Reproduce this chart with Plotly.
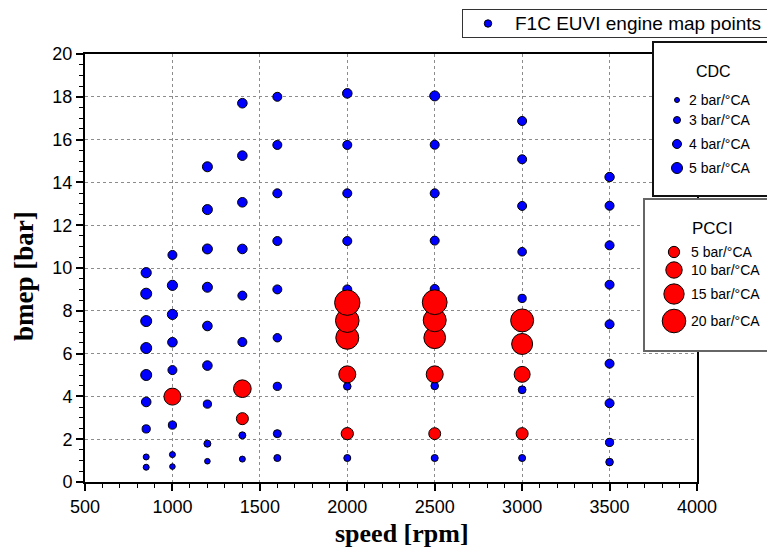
import numpy as np
import plotly.graph_objects as go

# ---------------- data ----------------
# CDC engine map points (speed [rpm], bmep [bar], pressure rise rate [bar/°CA])
cdc_speed = [850] * 9 + [1000] * 8 + [1200] * 9 + [1400] * 8 + [1600] * 9 + \
            [2000] * 7 + [2500] * 7 + [3000] * 7 + [3500] * 9
cdc_bmep = [
    9.78, 8.80, 7.52, 6.26, 5.00, 3.74, 2.48, 1.17, 0.69,
    10.61, 9.19, 7.83, 6.53, 5.23, 2.66, 1.28, 0.72,
    14.73, 12.73, 10.89, 9.10, 7.29, 5.44, 3.64, 1.79, 0.97,
    17.70, 15.25, 13.07, 10.89, 8.71, 6.54, 2.18, 1.07,
    18.00, 15.75, 13.49, 11.26, 9.00, 6.74, 4.47, 2.26, 1.12,
    18.16, 15.75, 13.49, 11.26, 9.00, 4.47, 1.12,
    18.04, 15.76, 13.49, 11.28, 9.02, 4.49, 1.12,
    16.87, 15.08, 12.90, 10.76, 8.58, 4.31, 1.12,
    14.25, 12.91, 11.06, 9.22, 7.37, 5.53, 3.68, 1.85, 0.93,
]
cdc_prr = [
    4.6, 5.0, 5.0, 5.0, 5.0, 4.3, 3.6, 2.5, 2.5,
    4.0, 4.6, 4.6, 4.3, 4.0, 3.6, 2.5, 2.3,
    4.5, 4.5, 4.5, 4.5, 4.3, 4.3, 3.6, 3.0, 2.3,
    4.3, 4.3, 4.3, 4.3, 4.0, 4.0, 3.0, 2.5,
    4.0, 4.0, 4.0, 4.0, 4.0, 3.7, 3.6, 3.5, 3.0,
    4.3, 4.0, 4.0, 4.0, 4.0, 3.3, 3.0,
    4.5, 4.0, 4.0, 4.0, 4.0, 3.3, 3.0,
    4.0, 4.0, 4.0, 3.8, 3.6, 3.4, 3.0,
    4.2, 4.0, 4.0, 4.0, 4.0, 4.0, 4.0, 3.6, 3.3,
]

# PCCI points
pcci_speed = [1000, 1400, 1400,
              2000, 2000, 2000, 2000, 2000,
              2500, 2500, 2500, 2500, 2500,
              3000, 3000, 3000, 3000]
pcci_bmep = [3.99, 2.96, 4.36,
             2.26, 5.03, 6.74, 7.54, 8.38,
             2.26, 5.03, 6.74, 7.56, 8.40,
             2.26, 5.03, 6.45, 7.55]
pcci_prr = [10.7, 5.6, 11.5,
            5.8, 10.7, 19.0, 20.0, 23.0,
            5.5, 10.7, 17.0, 19.0, 22.0,
            5.6, 9.5, 16.0, 19.0]

# legends
map_legend_label = "F1C EUVI engine map points"
cdc_title = "CDC"
cdc_legend_values = [2, 3, 4, 5]
pcci_title = "PCCI"
pcci_legend_values = [5, 10, 15, 20]
unit = "bar/°CA"

x_ticks = [500, 1000, 1500, 2000, 2500, 3000, 3500, 4000]
y_ticks = [0, 2, 4, 6, 8, 10, 12, 14, 16, 18, 20]


# ---------------- styling helpers ----------------
def cdc_diam(v):
    return 2.0 * np.asarray(v, dtype=float) + 2.0 - 1.0


def pcci_diam(v):
    return 5.5 * np.sqrt(np.asarray(v, dtype=float)) - 1.0


W, H = 767, 551
BLUE = "#0000FF"
RED = "#FF0000"
SANS = "Liberation Sans, Arial, sans-serif"
SERIF = "Liberation Serif, Times New Roman, serif"


def px_dom_x(a, b):
    return [a / W, min(b / W, 1.0)]


def px_dom_y(top, bottom):
    return [1 - bottom / H, 1 - top / H]


fig = go.Figure()

# main data
fig.add_trace(go.Scatter(
    x=cdc_speed, y=cdc_bmep, mode="markers", xaxis="x", yaxis="y",
    marker=dict(size=cdc_diam(cdc_prr), color=BLUE, opacity=1,
                line=dict(color="black", width=1)),
    showlegend=False, hoverinfo="x+y"))
fig.add_trace(go.Scatter(
    x=pcci_speed, y=pcci_bmep, mode="markers", xaxis="x", yaxis="y",
    marker=dict(size=pcci_diam(pcci_prr), color=RED, opacity=1,
                line=dict(color="black", width=1)),
    showlegend=False, hoverinfo="x+y"))

# ---------- legend boxes (as small subplots in pixel units) ----------
L1 = dict(x0=463, x1=767, y0=10, y1=37)
L2 = dict(x0=654, x1=767, y0=43, y1=195)
L3 = dict(x0=645, x1=767, y0=200, y1=350)

fig.add_trace(go.Scatter(
    x=[25], y=[13.5], mode="markers", xaxis="x2", yaxis="y2",
    marker=dict(size=cdc_diam(3.2), color=BLUE, opacity=1,
                line=dict(color="black", width=1)),
    showlegend=False, hoverinfo="skip"))

cdc_item_y = [57, 77, 101, 125]
fig.add_trace(go.Scatter(
    x=[23] * len(cdc_legend_values), y=cdc_item_y, mode="markers",
    xaxis="x3", yaxis="y3",
    marker=dict(size=cdc_diam(cdc_legend_values), color=BLUE, opacity=1,
                line=dict(color="black", width=1)),
    showlegend=False, hoverinfo="skip", cliponaxis=False))

pcci_item_y = [52, 70, 94, 121]
fig.add_trace(go.Scatter(
    x=[29] * len(pcci_legend_values), y=pcci_item_y, mode="markers",
    xaxis="x4", yaxis="y4",
    marker=dict(size=pcci_diam(pcci_legend_values), color=RED, opacity=1,
                line=dict(color="black", width=1)),
    showlegend=False, hoverinfo="skip", cliponaxis=False))

annotations = []
annotations.append(dict(xref="x2", yref="y2", x=50, y=13.5, text=map_legend_label,
                        xanchor="left", yanchor="middle", showarrow=False,
                        font=dict(family=SANS, size=19, color="black")))
annotations.append(dict(xref="x3", yref="y3", x=59, y=29, text=cdc_title,
                        xanchor="center", yanchor="middle", showarrow=False,
                        font=dict(family=SANS, size=16, color="black")))
for v, yy in zip(cdc_legend_values, cdc_item_y):
    annotations.append(dict(xref="x3", yref="y3", x=33, y=yy,
                            text=f"{v} {unit}", xanchor="left", yanchor="middle",
                            showarrow=False,
                            font=dict(family=SANS, size=14, color="black")))
annotations.append(dict(xref="x4", yref="y4", x=67, y=28, text=pcci_title,
                        xanchor="center", yanchor="middle", showarrow=False,
                        font=dict(family=SANS, size=17, color="black")))
for v, yy in zip(pcci_legend_values, pcci_item_y):
    annotations.append(dict(xref="x4", yref="y4", x=44, y=yy,
                            text=f"{v} {unit}", xanchor="left", yanchor="middle",
                            showarrow=False,
                            font=dict(family=SANS, size=14, color="black")))

# axis titles
annotations.append(dict(xref="paper", yref="paper", x=402 / W, y=1 - 533 / H,
                        text="<b>speed [rpm]</b>", xanchor="center", yanchor="middle",
                        showarrow=False, font=dict(family=SERIF, size=26, color="black")))
annotations.append(dict(xref="paper", yref="paper", x=24 / W, y=1 - 276 / H,
                        text="<b>bmep [bar]</b>", textangle=-90,
                        xanchor="center", yanchor="middle",
                        showarrow=False, font=dict(family=SERIF, size=27, color="black")))


def box_axes(box, yrev_h, line_color, line_width):
    xa = dict(domain=px_dom_x(box["x0"], box["x1"]), range=[0, box["x1"] - box["x0"]],
              showline=True, mirror=True, linecolor=line_color, linewidth=line_width,
              showgrid=False, zeroline=False, showticklabels=False, ticks="",
              fixedrange=True, automargin=False)
    ya = dict(domain=px_dom_y(box["y0"], box["y1"]), range=[yrev_h, 0],
              showline=True, mirror=False, linecolor=line_color, linewidth=line_width,
              showgrid=False, zeroline=False, showticklabels=False, ticks="",
              fixedrange=True, automargin=False)
    return xa, ya


xa2, ya2 = box_axes(L1, L1["y1"] - L1["y0"], "#333333", 1)
xa3, ya3 = box_axes(L2, L2["y1"] - L2["y0"], "#111111", 1.5)
xa4, ya4 = box_axes(L3, L3["y1"] - L3["y0"], "#666666", 1.5)
xa2.update(anchor="y2"); ya2.update(anchor="x2")
xa3.update(anchor="y3"); ya3.update(anchor="x3")
xa4.update(anchor="y4"); ya4.update(anchor="x4")

fig.update_layout(
    template="none",
    width=W, height=H,
    margin=dict(l=0, r=0, t=0, b=0, pad=0, autoexpand=False),
    paper_bgcolor="white", plot_bgcolor="white",
    showlegend=False,
    xaxis=dict(
        domain=px_dom_x(85, 697), range=[500, 4000], anchor="y",
        tickmode="array", tickvals=x_ticks, ticktext=[str(t) for t in x_ticks],
        ticks="outside", ticklen=7, tickwidth=1.5, tickcolor="black",
        showline=True, linecolor="black", linewidth=2, mirror=True,
        showgrid=True, gridcolor="#8c8c8c", gridwidth=1, griddash="3px,3px",
        zeroline=False, automargin=False,
        tickfont=dict(family=SANS, size=18, color="black"),
        minor=dict(tick0=500, dtick=100, ticks="outside", ticklen=4,
                   tickwidth=1, tickcolor="black", showgrid=False),
    ),
    yaxis=dict(
        domain=px_dom_y(54, 482), range=[0, 20], anchor="x",
        tickmode="array", tickvals=y_ticks, ticktext=[str(t) for t in y_ticks],
        ticks="outside", ticklen=7, tickwidth=1.5, tickcolor="black",
        showline=True, linecolor="black", linewidth=2, mirror=True,
        showgrid=True, gridcolor="#8c8c8c", gridwidth=1, griddash="3px,3px",
        zeroline=False, automargin=False,
        tickfont=dict(family=SANS, size=18, color="black"),
        minor=dict(tick0=0, dtick=0.5, ticks="outside", ticklen=4,
                   tickwidth=1, tickcolor="black", showgrid=False),
    ),
    xaxis2=xa2, yaxis2=ya2,
    xaxis3=xa3, yaxis3=ya3,
    xaxis4=xa4, yaxis4=ya4,
    annotations=annotations,
)

fig.write_html("out.html")
